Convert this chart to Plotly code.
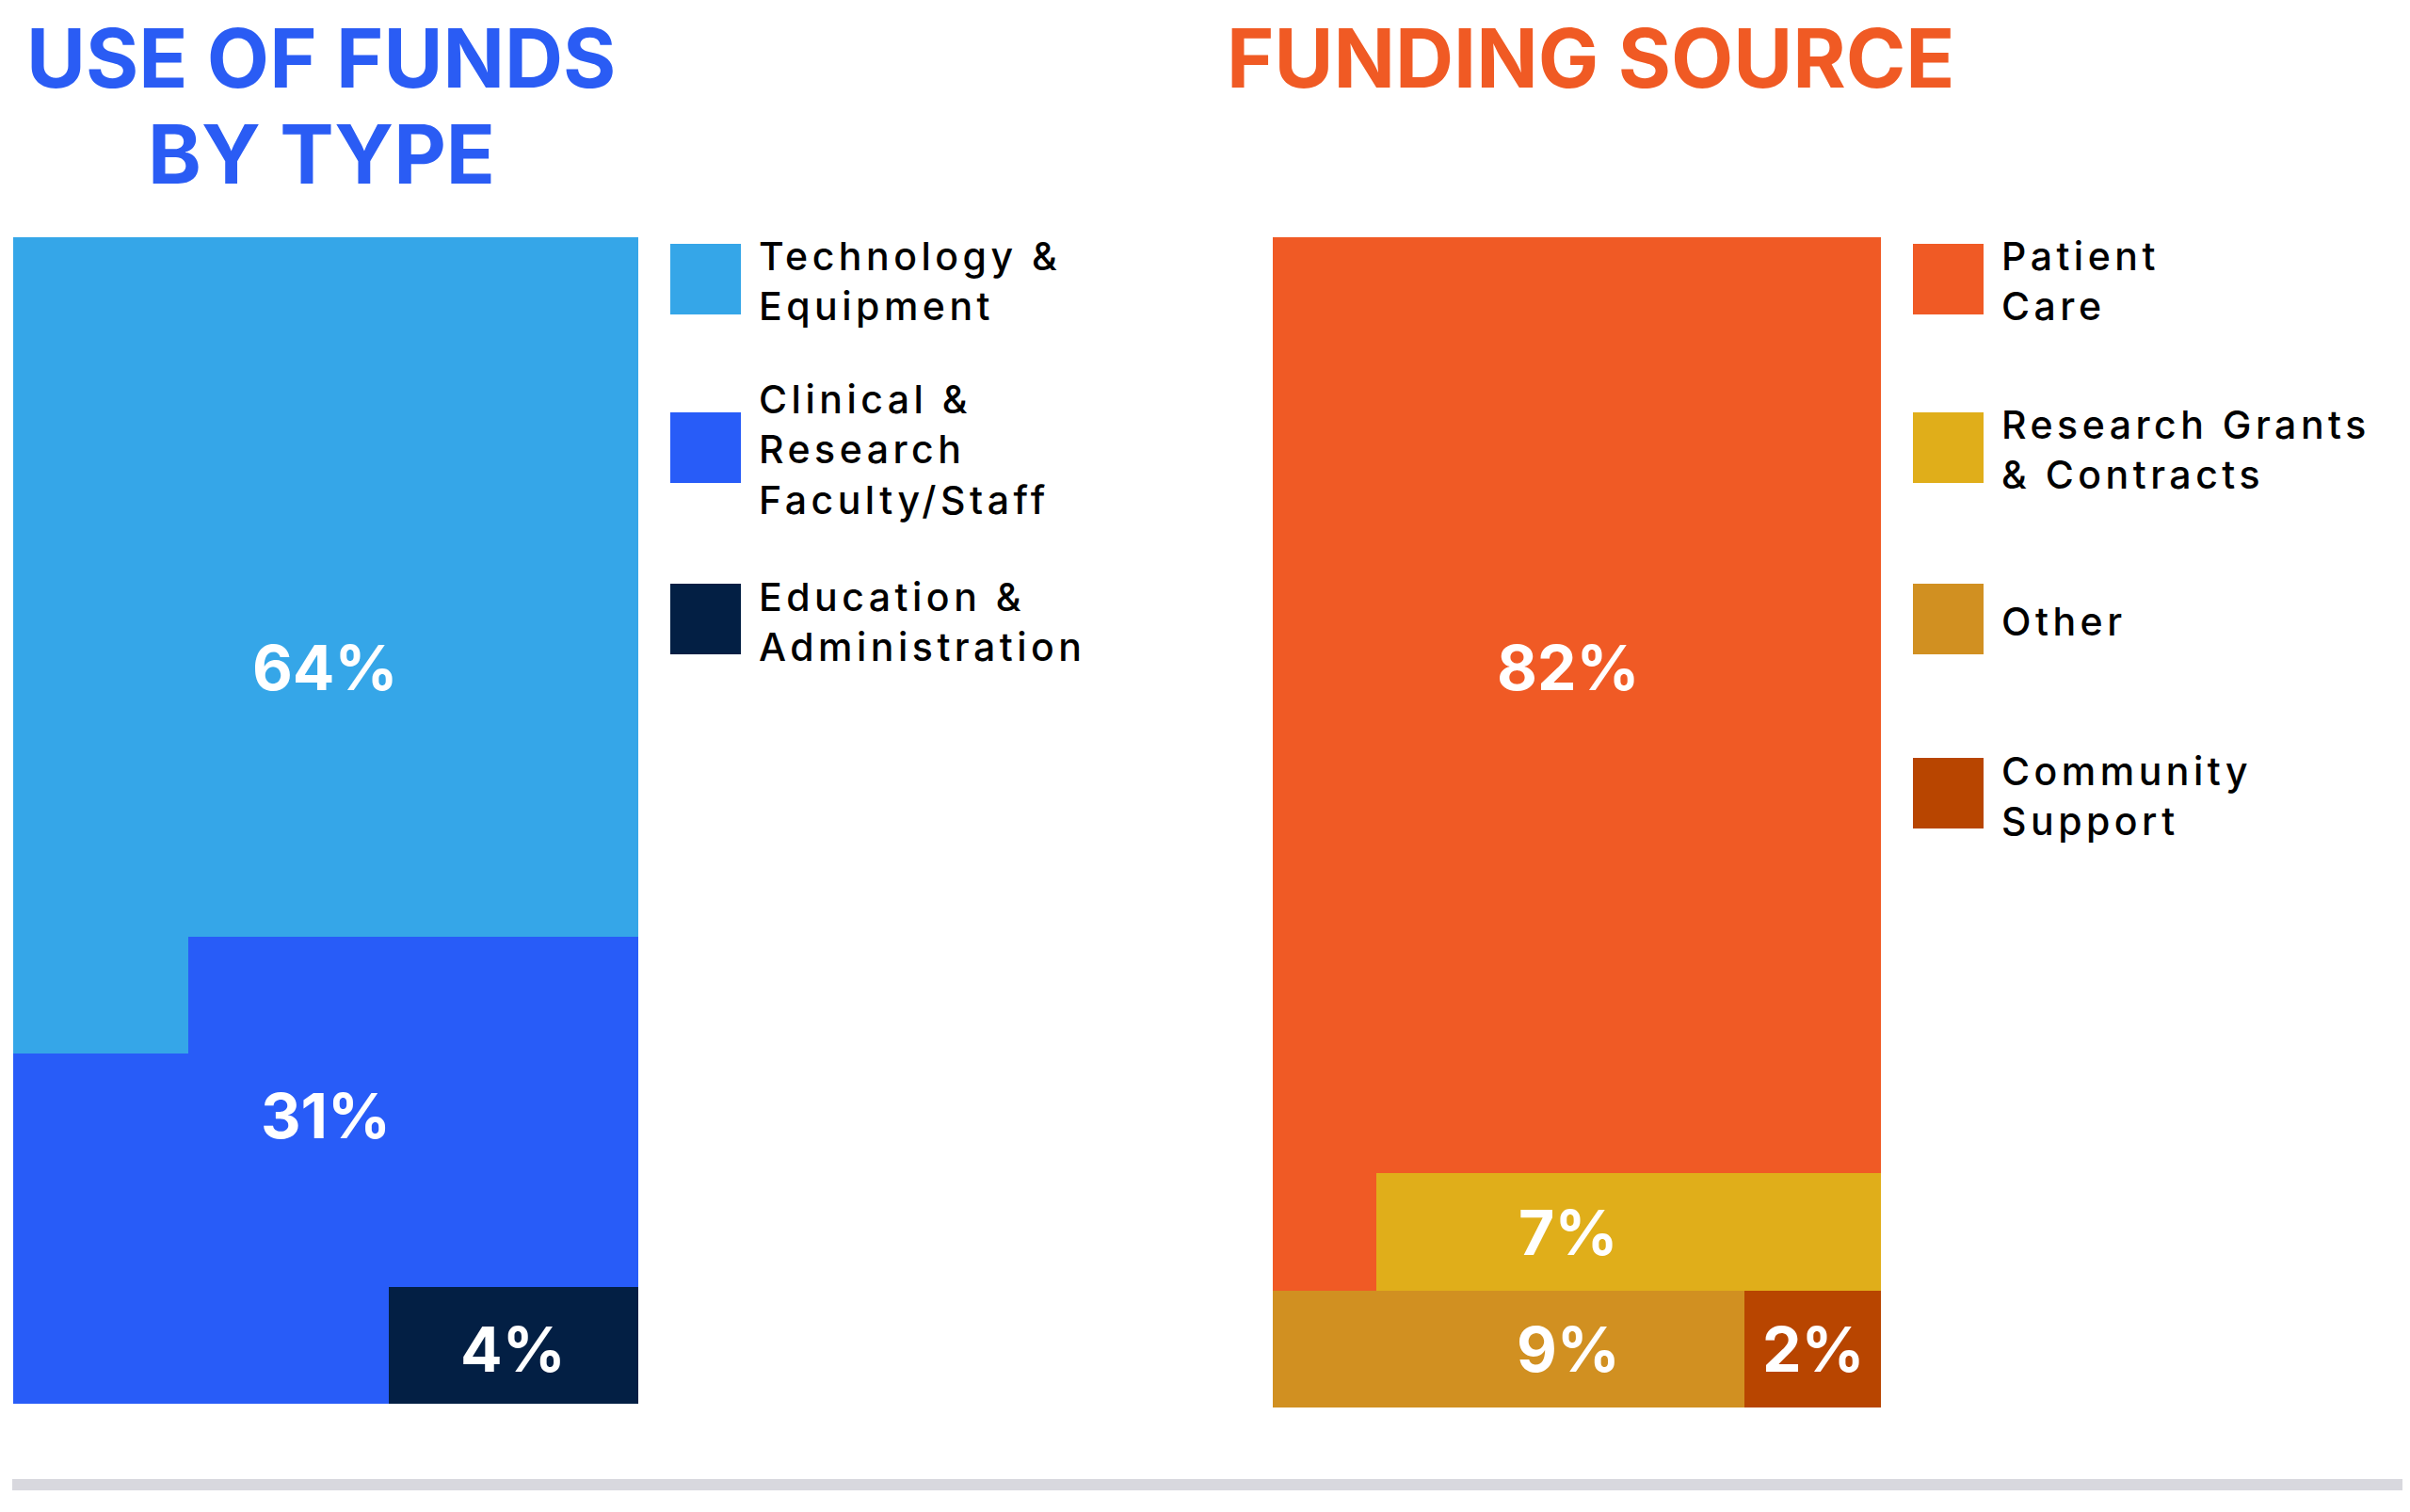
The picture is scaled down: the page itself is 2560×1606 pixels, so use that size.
import plotly.graph_objects as go

W, H = 2560, 1606
OFF = 8  # the page body has an 8px margin
FW, FH = W - OFF, 1578  # keep the page shorter than the window (no scrollbar)

# rows of the tiled bars, top to bottom (each row is 10 cells = 10%)
rows = [0, 1, 2, 3, 4, 5, 6, 7, 8, 9]

# USE OF FUNDS BY TYPE
use_names = ['Technology &<br>Equipment',
             'Clinical &<br>Research<br>Faculty/Staff',
             'Education &<br>Administration']
use_pct = [64, 31, 4]
tech_rows = [10, 10, 10, 10, 10, 10, 2.8, 0, 0, 0]
clinical_rows = [0, 0, 0, 0, 0, 0, 7.2, 10, 10, 6]
education_rows = [0, 0, 0, 0, 0, 0, 0, 0, 0, 4]

# FUNDING SOURCE
src_names = ['Patient<br>Care',
             'Research Grants<br>& Contracts',
             'Other',
             'Community<br>Support']
src_pct = [82, 7, 9, 2]
patient_rows = [10, 10, 10, 10, 10, 10, 10, 10, 1.7, 0]
research_rows = [0, 0, 0, 0, 0, 0, 0, 0, 8.3, 0]
other_rows = [0, 0, 0, 0, 0, 0, 0, 0, 0, 7.75]
community_rows = [0, 0, 0, 0, 0, 0, 0, 0, 0, 2.25]

use_colors = ['#35A6E8', '#285CF8', '#031F44']
src_colors = ['#F05A25', '#E0AE1A', '#D19021', '#B84500']

# where the % labels sit inside each bar (cells, rows)
use_lbl_pos = [(5, 3.19), (5, 7.03), (8, 9.03)]
src_lbl_pos = [(4.86, 3.18), (4.86, 8.0), (4.86, 9.0), (8.9, 9.0)]


def px(x):
    return (x - OFF) / FW


def py(y):
    return 1 - (y - OFF) / FH


fig = go.Figure()

for vals, col in zip([tech_rows, clinical_rows, education_rows], use_colors):
    fig.add_trace(go.Bar(x=vals, y=rows, orientation='h', width=1,
                         marker=dict(color=col, line=dict(width=0)),
                         xaxis='x', yaxis='y', showlegend=False, hoverinfo='skip'))

for vals, col in zip([patient_rows, research_rows, other_rows, community_rows], src_colors):
    fig.add_trace(go.Bar(x=vals, y=rows, orientation='h', width=1,
                         marker=dict(color=col, line=dict(width=0)),
                         xaxis='x2', yaxis='y2', showlegend=False, hoverinfo='skip'))

ann = []
pct_font = dict(family='Inter', size=66, color='white', weight='bold')
for p, (x, y) in zip(use_pct, use_lbl_pos):
    ann.append(dict(x=x, y=y, xref='x', yref='y', text=f'{p}%', showarrow=False,
                    font=pct_font, xanchor='center', yanchor='middle'))
for p, (x, y) in zip(src_pct, src_lbl_pos):
    ann.append(dict(x=x, y=y, xref='x2', yref='y2', text=f'{p}%', showarrow=False,
                    font=pct_font, xanchor='center', yanchor='middle'))

# titles
title_font = dict(family='Inter', size=86, weight='bold')
ann.append(dict(x=px(341), y=py(62), xref='paper', yref='paper', text='USE OF FUNDS',
                showarrow=False, xanchor='center', yanchor='middle',
                font=dict(title_font, color='#2A5CF4')))
ann.append(dict(x=px(341), y=py(164), xref='paper', yref='paper', text='BY TYPE',
                showarrow=False, xanchor='center', yanchor='middle',
                font=dict(title_font, color='#2A5CF4')))
ann.append(dict(x=px(1690), y=py(62), xref='paper', yref='paper', text='FUNDING SOURCE',
                showarrow=False, xanchor='center', yanchor='middle',
                font=dict(title_font, color='#F05A24')))

# legends: swatch + label
shapes = []
leg_font = dict(family='Inter', size=41, color='#000000', weight=500)
leg_tops = [259, 438, 620, 805]
for names, cols, x0 in [(use_names, use_colors, 712), (src_names, src_colors, 2032)]:
    for i, (name, col) in enumerate(zip(names, cols)):
        top = leg_tops[i]
        shapes.append(dict(type='rect', xref='paper', yref='paper',
                           x0=px(x0), x1=px(x0 + 75), y0=py(top + 75), y1=py(top),
                           fillcolor=col, line=dict(width=0)))
        label = '<br>'.join(f'<span style="letter-spacing:4.5px">{t}</span>'
                            for t in name.split('<br>'))
        ann.append(dict(x=px(x0 + 92), y=py(top + 40), xref='paper', yref='paper',
                        text=label, showarrow=False, xanchor='left', yanchor='middle',
                        align='left', font=leg_font))

# grey rule at the bottom
shapes.append(dict(type='rect', xref='paper', yref='paper',
                   x0=px(13), x1=1.01, y0=py(1583), y1=py(1571),
                   fillcolor='#D8D8DE', line=dict(width=0)))

fig.update_layout(
    width=FW, height=FH,
    margin=dict(l=0, r=0, t=0, b=0),
    paper_bgcolor='white', plot_bgcolor='white',
    barmode='stack', bargap=0,
    xaxis=dict(domain=[px(13.5), px(678)], range=[0, 10], visible=False, fixedrange=True),
    yaxis=dict(domain=[py(1491), py(252)], range=[9.5, -0.5], visible=False, fixedrange=True),
    xaxis2=dict(domain=[px(1352), px(1998)], range=[0, 10], visible=False,
                anchor='y2', fixedrange=True),
    yaxis2=dict(domain=[py(1495), py(252)], range=[9.5, -0.5], visible=False,
                anchor='x2', fixedrange=True),
    annotations=ann,
    shapes=shapes,
)

fig.write_html("out.html")
